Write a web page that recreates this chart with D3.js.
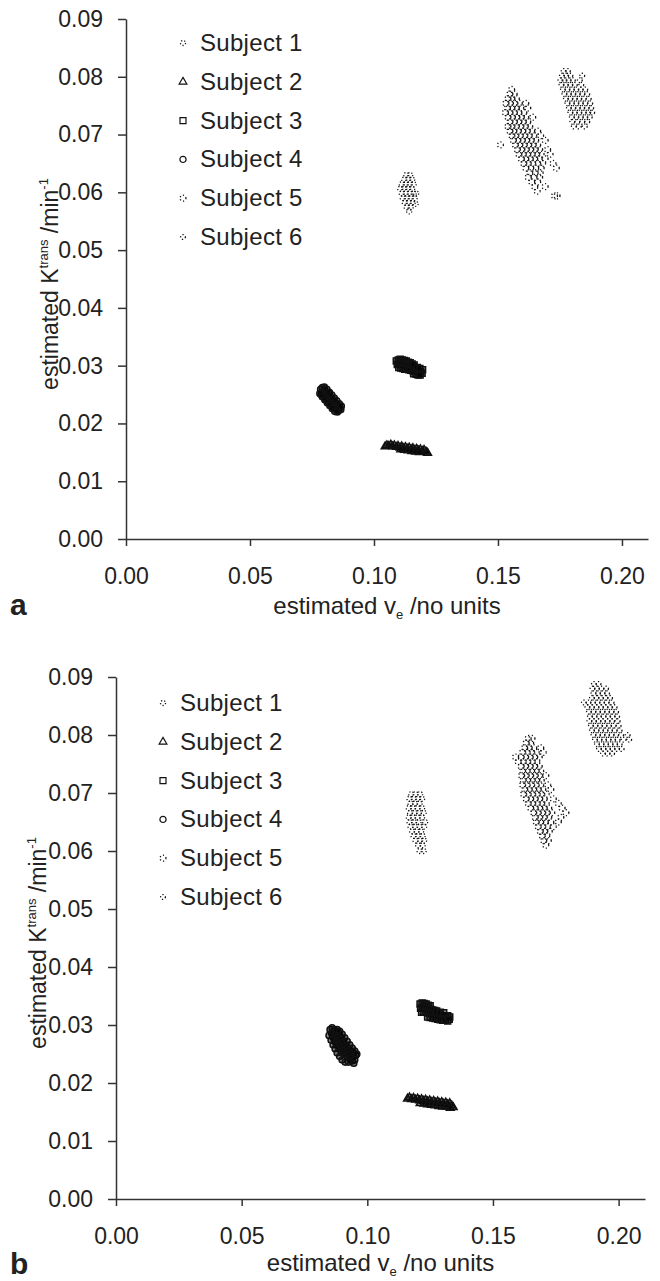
<!DOCTYPE html>
<html>
<head>
<meta charset="utf-8">
<script src="https://cdn.jsdelivr.net/npm/d3@7"></script>
<style>
  body { margin: 0; background: #fff; }
  svg { display: block; }
  text { font-family: "Liberation Sans", Arial, sans-serif; fill: #222; }
</style>
</head>
<body>
<div id="vis"></div>
<script>
//tick values and legend names
const xTicks = [0, 0.05, 0.10, 0.15, 0.20]
const yTicks = [0, 0.01, 0.02, 0.03, 0.04, 0.05, 0.06, 0.07, 0.08, 0.09]
const subjects = ["Subject 1", "Subject 2", "Subject 3", "Subject 4", "Subject 5", "Subject 6"]

//panel a, points [ve, Ktrans]
const a_s1 = [[0.1130,0.0630],[0.1146,0.0630],[0.1122,0.0622],[0.1138,0.0622],[0.1154,0.0622],
  [0.1112,0.0614],[0.1128,0.0614],[0.1144,0.0614],[0.1160,0.0614],[0.1106,0.0606],[0.1122,0.0606],
  [0.1138,0.0606],[0.1154,0.0606],[0.1112,0.0598],[0.1128,0.0598],[0.1144,0.0598],[0.1160,0.0598],
  [0.1170,0.0598],[0.1116,0.0590],[0.1132,0.0590],[0.1148,0.0590],[0.1164,0.0590],[0.1124,0.0582],
  [0.1140,0.0582],[0.1156,0.0582],[0.1168,0.0580],[0.1132,0.0574],[0.1148,0.0574],[0.1142,0.0567]]
const a_s2 = [[0.1045,0.0160],[0.1052,0.0162],[0.1060,0.0161],[0.1068,0.0163],[0.1075,0.0160],
  [0.1082,0.0162],[0.1090,0.0159],[0.1097,0.0161],[0.1105,0.0158],[0.1112,0.0160],[0.1120,0.0157],
  [0.1127,0.0159],[0.1135,0.0156],[0.1142,0.0158],[0.1150,0.0155],[0.1157,0.0157],[0.1165,0.0154],
  [0.1172,0.0156],[0.1180,0.0153],[0.1187,0.0155],[0.1195,0.0152],[0.1202,0.0154],[0.1210,0.0151],
  [0.1216,0.0149],[0.1108,0.0155],[0.1123,0.0154],[0.1138,0.0153],[0.1153,0.0152],[0.1168,0.0151],
  [0.1183,0.0150]]
const a_s3 = [[0.1090,0.0308],[0.1098,0.0310],[0.1106,0.0311],[0.1114,0.0310],[0.1122,0.0309],
  [0.1130,0.0308],[0.1138,0.0306],[0.1146,0.0305],[0.1094,0.0302],[0.1102,0.0304],[0.1110,0.0303],
  [0.1118,0.0302],[0.1126,0.0301],[0.1134,0.0300],[0.1142,0.0299],[0.1150,0.0300],[0.1158,0.0298],
  [0.1166,0.0296],[0.1100,0.0297],[0.1108,0.0296],[0.1116,0.0295],[0.1124,0.0294],[0.1132,0.0294],
  [0.1140,0.0293],[0.1148,0.0292],[0.1156,0.0291],[0.1164,0.0290],[0.1172,0.0291],[0.1180,0.0289],
  [0.1188,0.0290],[0.1194,0.0287],[0.1160,0.0286],[0.1170,0.0285],[0.1178,0.0284],[0.1186,0.0284],
  [0.1196,0.0293],[0.1154,0.0303],[0.1162,0.0301],[0.1175,0.0297],[0.1185,0.0295]]
const a_s4 = [[0.0785,0.0259],[0.0792,0.0262],[0.0800,0.0258],[0.0790,0.0254],[0.0798,0.0252],
  [0.0806,0.0255],[0.0812,0.0250],[0.0803,0.0247],[0.0816,0.0244],[0.0809,0.0242],[0.0822,0.0247],
  [0.0820,0.0240],[0.0827,0.0243],[0.0814,0.0237],[0.0830,0.0237],[0.0825,0.0234],[0.0835,0.0240],
  [0.0838,0.0232],[0.0832,0.0229],[0.0845,0.0235],[0.0843,0.0228],[0.0850,0.0231],[0.0848,0.0225],
  [0.0855,0.0227],[0.0858,0.0223],[0.0862,0.0228],[0.0866,0.0224],[0.0787,0.0250],[0.0818,0.0253],
  [0.0840,0.0226],[0.0800,0.0263],[0.0810,0.0259],[0.0820,0.0254],[0.0830,0.0249],[0.0840,0.0244],
  [0.0850,0.0239],[0.0860,0.0234],[0.0868,0.0230],[0.0782,0.0252],[0.0792,0.0246],[0.0802,0.0241],
  [0.0812,0.0236],[0.0822,0.0231],[0.0832,0.0226],[0.0842,0.0221],[0.0852,0.0220]]
const a_s5 = [[0.1555,0.0778],[0.1548,0.0770],[0.1565,0.0770],[0.1540,0.0762],[0.1556,0.0762],
  [0.1574,0.0762],[0.1532,0.0754],[0.1550,0.0754],[0.1568,0.0754],[0.1586,0.0754],[0.1612,0.0754],
  [0.1538,0.0746],[0.1556,0.0746],[0.1574,0.0746],[0.1592,0.0746],[0.1620,0.0746],[0.1530,0.0738],
  [0.1548,0.0738],[0.1566,0.0738],[0.1584,0.0738],[0.1604,0.0738],[0.1540,0.0730],[0.1558,0.0730],
  [0.1576,0.0730],[0.1594,0.0730],[0.1612,0.0730],[0.1640,0.0730],[0.1548,0.0722],[0.1566,0.0722],
  [0.1584,0.0722],[0.1602,0.0722],[0.1620,0.0722],[0.1540,0.0714],[0.1556,0.0714],[0.1574,0.0714],
  [0.1592,0.0714],[0.1610,0.0714],[0.1628,0.0714],[0.1548,0.0706],[0.1564,0.0706],[0.1582,0.0706],
  [0.1600,0.0706],[0.1618,0.0706],[0.1636,0.0706],[0.1660,0.0706],[0.1556,0.0698],[0.1572,0.0698],
  [0.1590,0.0698],[0.1608,0.0698],[0.1626,0.0698],[0.1644,0.0698],[0.1672,0.0698],[0.1562,0.0690],
  [0.1580,0.0690],[0.1598,0.0690],[0.1616,0.0690],[0.1634,0.0690],[0.1652,0.0690],[0.1690,0.0690],
  [0.1510,0.0682],[0.1570,0.0682],[0.1588,0.0682],[0.1606,0.0682],[0.1624,0.0682],[0.1642,0.0682],
  [0.1660,0.0682],[0.1578,0.0674],[0.1596,0.0674],[0.1614,0.0674],[0.1632,0.0674],[0.1650,0.0674],
  [0.1668,0.0674],[0.1700,0.0674],[0.1584,0.0666],[0.1602,0.0666],[0.1620,0.0666],[0.1638,0.0666],
  [0.1656,0.0666],[0.1674,0.0666],[0.1710,0.0666],[0.1594,0.0658],[0.1612,0.0658],[0.1630,0.0658],
  [0.1648,0.0658],[0.1666,0.0658],[0.1690,0.0658],[0.1604,0.0650],[0.1622,0.0650],[0.1640,0.0650],
  [0.1660,0.0650],[0.1680,0.0650],[0.1722,0.0650],[0.1612,0.0642],[0.1632,0.0642],[0.1652,0.0642],
  [0.1674,0.0642],[0.1735,0.0642],[0.1628,0.0634],[0.1650,0.0634],[0.1670,0.0634],[0.1622,0.0626],
  [0.1645,0.0626],[0.1668,0.0626],[0.1636,0.0618],[0.1660,0.0618],[0.1648,0.0610],[0.1690,0.0610],
  [0.1658,0.0602],[0.1728,0.0594],[0.1738,0.0594]]
const a_s6 = [[0.1765,0.0810],[0.1782,0.0810],[0.1758,0.0802],[0.1775,0.0802],[0.1792,0.0802],
  [0.1840,0.0802],[0.1752,0.0794],[0.1768,0.0794],[0.1785,0.0794],[0.1802,0.0794],[0.1830,0.0794],
  [0.1756,0.0786],[0.1774,0.0786],[0.1792,0.0786],[0.1810,0.0786],[0.1836,0.0786],[0.1762,0.0778],
  [0.1780,0.0778],[0.1798,0.0778],[0.1816,0.0778],[0.1834,0.0778],[0.1852,0.0778],[0.1768,0.0770],
  [0.1786,0.0770],[0.1804,0.0770],[0.1822,0.0770],[0.1840,0.0770],[0.1860,0.0770],[0.1774,0.0762],
  [0.1792,0.0762],[0.1810,0.0762],[0.1828,0.0762],[0.1846,0.0762],[0.1866,0.0762],[0.1780,0.0754],
  [0.1798,0.0754],[0.1816,0.0754],[0.1834,0.0754],[0.1852,0.0754],[0.1872,0.0754],[0.1786,0.0746],
  [0.1804,0.0746],[0.1822,0.0746],[0.1840,0.0746],[0.1858,0.0746],[0.1876,0.0746],[0.1792,0.0738],
  [0.1810,0.0738],[0.1828,0.0738],[0.1846,0.0738],[0.1864,0.0738],[0.1880,0.0738],[0.1798,0.0730],
  [0.1816,0.0730],[0.1834,0.0730],[0.1852,0.0730],[0.1870,0.0730],[0.1800,0.0722],[0.1820,0.0722],
  [0.1840,0.0722],[0.1860,0.0722],[0.1806,0.0714],[0.1826,0.0714],[0.1850,0.0714]]

//panel b
const b_s1 = [[0.1175,0.0698],[0.1192,0.0698],[0.1210,0.0698],[0.1168,0.0690],[0.1185,0.0690],
  [0.1202,0.0690],[0.1218,0.0690],[0.1172,0.0682],[0.1190,0.0682],[0.1208,0.0682],[0.1165,0.0674],
  [0.1182,0.0674],[0.1200,0.0674],[0.1218,0.0674],[0.1170,0.0666],[0.1188,0.0666],[0.1206,0.0666],
  [0.1224,0.0666],[0.1165,0.0658],[0.1182,0.0658],[0.1200,0.0658],[0.1218,0.0658],[0.1168,0.0650],
  [0.1186,0.0650],[0.1204,0.0650],[0.1230,0.0650],[0.1172,0.0642],[0.1190,0.0642],[0.1208,0.0642],
  [0.1226,0.0642],[0.1178,0.0634],[0.1196,0.0634],[0.1214,0.0634],[0.1184,0.0626],[0.1202,0.0626],
  [0.1220,0.0626],[0.1192,0.0618],[0.1210,0.0618],[0.1226,0.0618],[0.1202,0.0610],[0.1220,0.0610],
  [0.1208,0.0600],[0.1224,0.0600]]
const b_s2 = [[0.1160,0.0173],[0.1168,0.0175],[0.1176,0.0172],[0.1184,0.0174],[0.1192,0.0171],
  [0.1200,0.0173],[0.1208,0.0170],[0.1216,0.0172],[0.1224,0.0169],[0.1232,0.0171],[0.1240,0.0168],
  [0.1248,0.0170],[0.1256,0.0167],[0.1264,0.0169],[0.1272,0.0166],[0.1280,0.0168],[0.1288,0.0165],
  [0.1296,0.0167],[0.1304,0.0164],[0.1312,0.0166],[0.1320,0.0163],[0.1328,0.0165],[0.1336,0.0161],
  [0.1342,0.0158],[0.1210,0.0165],[0.1225,0.0164],[0.1240,0.0163],[0.1255,0.0162],[0.1270,0.0161],
  [0.1285,0.0160],[0.1300,0.0159],[0.1315,0.0159],[0.1330,0.0157]]
const b_s3 = [[0.1210,0.0336],[0.1218,0.0338],[0.1226,0.0337],[0.1234,0.0336],[0.1242,0.0334],
  [0.1250,0.0333],[0.1212,0.0329],[0.1220,0.0331],[0.1228,0.0330],[0.1236,0.0329],[0.1244,0.0328],
  [0.1252,0.0327],[0.1260,0.0326],[0.1268,0.0325],[0.1216,0.0322],[0.1224,0.0323],[0.1232,0.0322],
  [0.1240,0.0321],[0.1248,0.0320],[0.1256,0.0320],[0.1264,0.0319],[0.1272,0.0318],[0.1280,0.0318],
  [0.1288,0.0317],[0.1296,0.0316],[0.1304,0.0316],[0.1312,0.0315],[0.1320,0.0316],[0.1328,0.0314],
  [0.1240,0.0314],[0.1250,0.0313],[0.1260,0.0312],[0.1270,0.0311],[0.1280,0.0310],[0.1290,0.0309],
  [0.1300,0.0308],[0.1310,0.0308],[0.1320,0.0307],[0.1326,0.0310],[0.1276,0.0324],[0.1290,0.0322],
  [0.1304,0.0321]]
const b_s4 = [[0.0852,0.0292],[0.0860,0.0295],[0.0868,0.0292],[0.0858,0.0286],[0.0866,0.0287],
  [0.0874,0.0289],[0.0862,0.0280],[0.0870,0.0282],[0.0878,0.0284],[0.0886,0.0286],[0.0868,0.0275],
  [0.0876,0.0277],[0.0884,0.0279],[0.0892,0.0281],[0.0874,0.0270],[0.0882,0.0272],[0.0890,0.0274],
  [0.0898,0.0276],[0.0880,0.0265],[0.0888,0.0267],[0.0896,0.0269],[0.0904,0.0271],[0.0888,0.0260],
  [0.0896,0.0262],[0.0904,0.0264],[0.0912,0.0266],[0.0896,0.0255],[0.0904,0.0257],[0.0912,0.0259],
  [0.0920,0.0261],[0.0906,0.0251],[0.0914,0.0252],[0.0922,0.0254],[0.0930,0.0256],[0.0918,0.0247],
  [0.0926,0.0248],[0.0934,0.0250],[0.0942,0.0252],[0.0930,0.0243],[0.0938,0.0244],[0.0946,0.0246],
  [0.0954,0.0248],[0.0940,0.0238],[0.0950,0.0240],[0.0946,0.0234],[0.0880,0.0292],[0.0890,0.0289],
  [0.0900,0.0284],[0.0910,0.0278],[0.0920,0.0272],[0.0930,0.0266],[0.0940,0.0260],[0.0950,0.0255],
  [0.0958,0.0250],[0.0848,0.0282],[0.0856,0.0274],[0.0864,0.0266],[0.0872,0.0259],[0.0880,0.0252],
  [0.0890,0.0246],[0.0900,0.0240],[0.0912,0.0236],[0.0925,0.0236]]
const b_s5 = [[0.1640,0.0794],[0.1655,0.0794],[0.1632,0.0786],[0.1650,0.0786],[0.1626,0.0778],
  [0.1644,0.0778],[0.1662,0.0778],[0.1690,0.0778],[0.1618,0.0770],[0.1636,0.0770],[0.1654,0.0770],
  [0.1672,0.0770],[0.1700,0.0770],[0.1590,0.0762],[0.1612,0.0762],[0.1630,0.0762],[0.1648,0.0762],
  [0.1666,0.0762],[0.1684,0.0762],[0.1600,0.0754],[0.1620,0.0754],[0.1638,0.0754],[0.1656,0.0754],
  [0.1674,0.0754],[0.1612,0.0746],[0.1630,0.0746],[0.1648,0.0746],[0.1666,0.0746],[0.1684,0.0746],
  [0.1618,0.0738],[0.1636,0.0738],[0.1654,0.0738],[0.1672,0.0738],[0.1690,0.0738],[0.1614,0.0730],
  [0.1632,0.0730],[0.1650,0.0730],[0.1668,0.0730],[0.1686,0.0730],[0.1710,0.0730],[0.1620,0.0722],
  [0.1638,0.0722],[0.1656,0.0722],[0.1674,0.0722],[0.1692,0.0722],[0.1618,0.0714],[0.1636,0.0714],
  [0.1654,0.0714],[0.1672,0.0714],[0.1690,0.0714],[0.1718,0.0714],[0.1626,0.0706],[0.1644,0.0706],
  [0.1662,0.0706],[0.1680,0.0706],[0.1698,0.0706],[0.1730,0.0706],[0.1622,0.0698],[0.1640,0.0698],
  [0.1658,0.0698],[0.1676,0.0698],[0.1694,0.0698],[0.1712,0.0698],[0.1632,0.0690],[0.1650,0.0690],
  [0.1668,0.0690],[0.1686,0.0690],[0.1704,0.0690],[0.1740,0.0690],[0.1640,0.0682],[0.1658,0.0682],
  [0.1676,0.0682],[0.1694,0.0682],[0.1712,0.0682],[0.1760,0.0682],[0.1650,0.0674],[0.1668,0.0674],
  [0.1686,0.0674],[0.1704,0.0674],[0.1722,0.0674],[0.1775,0.0674],[0.1662,0.0666],[0.1680,0.0666],
  [0.1698,0.0666],[0.1716,0.0666],[0.1734,0.0666],[0.1790,0.0666],[0.1668,0.0658],[0.1686,0.0658],
  [0.1704,0.0658],[0.1722,0.0658],[0.1770,0.0658],[0.1672,0.0650],[0.1690,0.0650],[0.1708,0.0650],
  [0.1730,0.0650],[0.1760,0.0650],[0.1680,0.0642],[0.1698,0.0642],[0.1716,0.0642],[0.1740,0.0642],
  [0.1688,0.0634],[0.1706,0.0634],[0.1724,0.0634],[0.1696,0.0626],[0.1714,0.0626],[0.1702,0.0618],
  [0.1720,0.0618],[0.1710,0.0610]]
const b_s6 = [[0.1902,0.0888],[0.1920,0.0888],[0.1896,0.0880],[0.1914,0.0880],[0.1932,0.0880],
  [0.1950,0.0880],[0.1900,0.0872],[0.1918,0.0872],[0.1936,0.0872],[0.1954,0.0872],[0.1894,0.0864],
  [0.1912,0.0864],[0.1930,0.0864],[0.1948,0.0864],[0.1966,0.0864],[0.1862,0.0856],[0.1880,0.0856],
  [0.1898,0.0856],[0.1916,0.0856],[0.1934,0.0856],[0.1952,0.0856],[0.1972,0.0856],[0.1876,0.0848],
  [0.1894,0.0848],[0.1912,0.0848],[0.1930,0.0848],[0.1948,0.0848],[0.1966,0.0848],[0.1984,0.0848],
  [0.1882,0.0840],[0.1900,0.0840],[0.1918,0.0840],[0.1936,0.0840],[0.1954,0.0840],[0.1972,0.0840],
  [0.1990,0.0840],[0.1886,0.0832],[0.1904,0.0832],[0.1922,0.0832],[0.1940,0.0832],[0.1958,0.0832],
  [0.1976,0.0832],[0.1994,0.0832],[0.1884,0.0824],[0.1902,0.0824],[0.1920,0.0824],[0.1938,0.0824],
  [0.1956,0.0824],[0.1974,0.0824],[0.1996,0.0824],[0.1890,0.0816],[0.1908,0.0816],[0.1926,0.0816],
  [0.1944,0.0816],[0.1962,0.0816],[0.1980,0.0816],[0.2000,0.0816],[0.1894,0.0808],[0.1912,0.0808],
  [0.1930,0.0808],[0.1948,0.0808],[0.1966,0.0808],[0.1984,0.0808],[0.2004,0.0808],[0.1900,0.0800],
  [0.1918,0.0800],[0.1936,0.0800],[0.1954,0.0800],[0.1972,0.0800],[0.1990,0.0800],[0.2010,0.0800],
  [0.2036,0.0800],[0.1906,0.0792],[0.1924,0.0792],[0.1942,0.0792],[0.1960,0.0792],[0.1978,0.0792],
  [0.1996,0.0792],[0.2020,0.0792],[0.2042,0.0792],[0.1914,0.0784],[0.1932,0.0784],[0.1950,0.0784],
  [0.1968,0.0784],[0.1986,0.0784],[0.2004,0.0784],[0.1922,0.0776],[0.1940,0.0776],[0.1958,0.0776],
  [0.1976,0.0776],[0.1994,0.0776],[0.2012,0.0776],[0.1938,0.0768],[0.1956,0.0768],[0.1974,0.0768]]

//marker look per subject (index matches subjects)
const markers = [
    { type: d3.symbolCircle, size: 20, dash: "1.2 2" },
    { type: d3.symbolTriangle, size: 26, dash: null },
    { type: d3.symbolSquare, size: 36, dash: null },
    { type: d3.symbolCircle, size: 30, dash: null },
    { type: d3.symbolCircle, size: 28, dash: "1.2 2.2" },
    { type: d3.symbolCircle, size: 18, dash: "1.2 2" }
]

const svg = d3.select("#vis")
    .append("svg")
    .attr("width", 660)
    .attr("height", 1281)

//inPlot: overlapping hollow markers pile up into a dark blob, so give them a faint fill
function marker(sel, m, inPlot) {
    sel.attr("d", d3.symbol().type(m.type).size(m.size))
        .attr("fill", inPlot && !m.dash ? "#000" : "none")
        .attr("fill-opacity", inPlot && !m.dash ? 0.45 : null)
        .attr("stroke", "#111")
        .attr("stroke-width", m.dash ? 1.3 : (inPlot ? 1.5 : 1.2))
        .attr("stroke-dasharray", m.dash)
}

function drawPanel(p) {
    const x = d3.scaleLinear().domain([0, 0.2105]).range([p.left, p.right])
    const y = d3.scaleLinear().domain([0, 0.09]).range([p.bottom, p.top])
    const g = svg.append("g")

    //points, one group per subject
    p.series.forEach((pts, i) => {
        g.append("g")
            .selectAll("path")
            .data(pts)
            .join("path")
            .attr("transform", d => `translate(${x(d[0])},${y(d[1])})`)
            .call(marker, markers[i], true)
    })

    //axes
    const yAxis = g.append("g")
        .attr("transform", `translate(${p.left},0)`)
        .call(d3.axisLeft(y).tickValues(yTicks).tickFormat(d3.format(".2f"))
            .tickSize(8).tickPadding(15).tickSizeOuter(0))
    const xAxis = g.append("g")
        .attr("transform", `translate(0,${p.bottom})`)
        .call(d3.axisBottom(x).tickValues(xTicks).tickFormat(d3.format(".2f"))
            .tickSize(7).tickPadding(22).tickSizeOuter(0))
    ;[yAxis, xAxis].forEach(ax => {
        ax.attr("font-size", 23).attr("font-family", null)
        ax.selectAll("path, line").attr("stroke", "#333").attr("stroke-width", 1.5)
        ax.selectAll("text").attr("fill", "#222")
    })

    //y title with superscripts
    const yt = g.append("text")
        .attr("transform", `translate(${p.yTitleX},${(p.top + p.bottom) / 2 + 5}) rotate(-90)`)
        .attr("text-anchor", "middle")
        .attr("font-size", 23)
    yt.append("tspan").text("estimated K")
    yt.append("tspan").attr("font-size", 13).attr("dy", -10).text("trans")
    yt.append("tspan").attr("dy", 10).text(" /min")
    yt.append("tspan").attr("font-size", 13).attr("dy", -10).text("-1")

    //x title with subscript
    const xt = g.append("text")
        .attr("x", (p.left + p.right) / 2)
        .attr("y", p.xTitleY)
        .attr("text-anchor", "middle")
        .attr("font-size", 24)
    xt.append("tspan").text("estimated v")
    xt.append("tspan").attr("font-size", 13).attr("dy", 5).text("e")
    xt.append("tspan").attr("dy", -5).text(" /no units")

    //panel letter
    g.append("text")
        .attr("x", 10)
        .attr("y", p.letterY)
        .attr("font-size", 30)
        .attr("font-weight", "bold")
        .attr("fill", "#111")
        .text(p.label)

    //legend
    const lg = g.append("g")
    subjects.forEach((s, i) => {
        const cy = p.legendY + i * 38.8
        lg.append("path")
            .attr("transform", `translate(${p.legendX},${cy})`)
            .call(marker, markers[i], false)
        lg.append("text")
            .attr("x", p.legendX + 17)
            .attr("y", cy + 8)
            .attr("font-size", 24)
            .attr("letter-spacing", 0.3)
            .text(s)
    })
}

drawPanel({
    label: "a", left: 126, right: 648, top: 19, bottom: 539,
    yTitleX: 58, xTitleY: 614, letterY: 615, legendX: 183, legendY: 43,
    series: [a_s1, a_s2, a_s3, a_s4, a_s5, a_s6]
})

drawPanel({
    label: "b", left: 116, right: 645, top: 677, bottom: 1199,
    yTitleX: 46, xTitleY: 1271, letterY: 1274, legendX: 163, legendY: 703,
    series: [b_s1, b_s2, b_s3, b_s4, b_s5, b_s6]
})
</script>
</body>
</html>
